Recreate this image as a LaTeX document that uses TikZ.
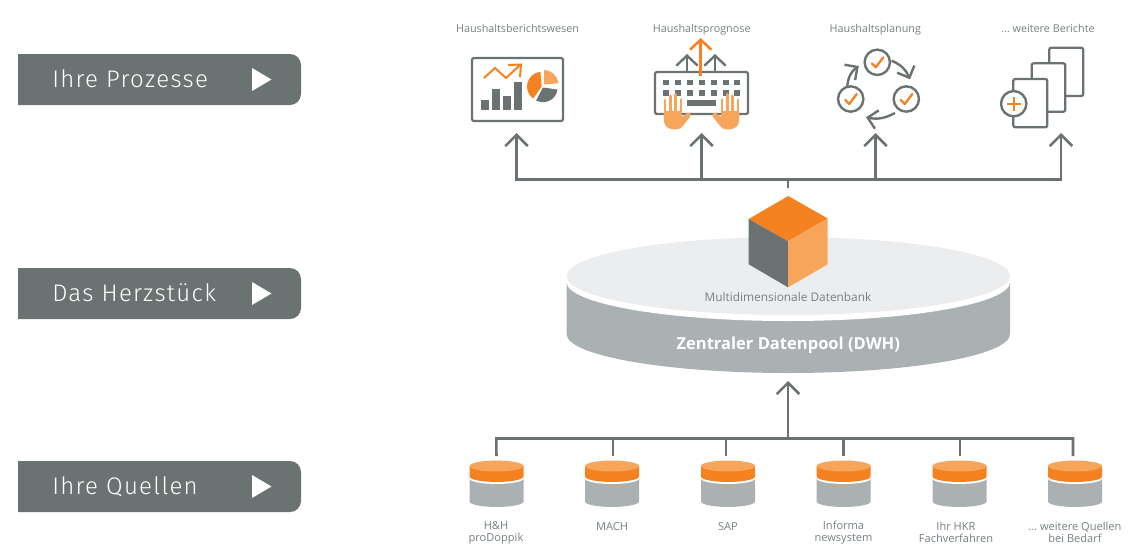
\documentclass[tikz,border=0pt]{standalone}
\usepackage{fontspec}
\setmainfont{Open Sans}
\newfontfamily\btnfont[LetterSpace=5.5]{Fira Sans Light}
\usetikzlibrary{arrows.meta,calc}
\definecolor{slate}{HTML}{6A7272}
\definecolor{lab}{HTML}{768081}
\definecolor{org}{HTML}{F58220}
\definecolor{lorg}{HTML}{F8A55C}
\definecolor{disk}{HTML}{ABB1B2}
\definecolor{lite}{HTML}{ECEDEE}
\tikzset{
  x=0.75pt,y=-0.75pt,
  wire/.style={draw=slate,line width=1.9pt},
  uparrow/.style={wire,-{Straight Barb[length=8.5pt,width=17pt,line width=1.9pt]}},
  thin icon/.style={draw=slate,line width=1.7pt,rounded corners=1.5pt,line join=round},
  okcircle/.style={circle,draw=slate,line width=1.8pt,fill=white,minimum size=19pt,inner sep=0pt},
  tick/.style={draw=org,line width=1.7pt,line cap=round,line join=round},
  barblet/.style={draw=slate,line width=1.8pt,-{Straight Barb[length=7pt,width=14pt,line width=1.8pt]}},
  toplabel/.style={text=lab,font=\fontsize{8.1pt}{10pt}\selectfont,inner sep=0pt,anchor=base},
  srclabel/.style={text=lab,font=\fontsize{8.3pt}{9pt}\selectfont,inner sep=0pt,anchor=center,align=center},
  btntext/.style={text=white,font=\btnfont\fontsize{18pt}{20pt}\selectfont,inner sep=0pt,anchor=base west},
}
\newcommand{\btn}[3]{%
  \fill[slate] (18,#1) -- (290,#1) arc[start angle=90,end angle=0,radius=8.25pt] -- (301,#1+40) arc[start angle=0,end angle=-90,radius=8.25pt] -- (18,#1+51) -- cycle;
  \node[btntext] (#3) at (52,#1+33.5) {#2};
  \fill[white] (252,#1+14) -- (271.5,#1+25.5) -- (252,#1+37) -- cycle;
}
\newcommand{\drum}[2]{%
  \fill[disk] (#1-27,478) -- (#1+27,478) -- (#1+27,501.5) arc[start angle=0,end angle=-180,x radius=20.25pt,y radius=4.1pt] -- cycle;
  \fill[white] (#1-27,469) -- (#1+27,469) -- (#1+27,478.5) arc[start angle=0,end angle=-180,x radius=20.25pt,y radius=4.1pt] -- cycle;
  \fill[org] (#1-27,466) -- (#1+27,466) -- (#1+27,476.5) arc[start angle=0,end angle=-180,x radius=20.25pt,y radius=4.1pt] -- cycle;
  \fill[lorg] (#1,466) ellipse[x radius=20.25pt,y radius=4.1pt];
  \coordinate (#2) at (#1,456);
}
\newcommand{\hand}{%
  \fill[lorg,rounded corners=2pt] (663.3,111) -- (682,111) -- (681.5,118) -- (688.5,111.5) -- (691.5,115) -- (682,127) -- (679,129.3) -- (670,129.3) -- (664.5,125) -- cycle;
  \draw[lorg,line width=2.2pt,line cap=round] (665,113) -- (665,100);
  \draw[lorg,line width=2.3pt,line cap=round] (670.3,113) -- (670.3,96);
  \draw[lorg,line width=2.3pt,line cap=round] (675.8,113) -- (675.8,94.5);
  \draw[lorg,line width=2.2pt,line cap=round] (681,113) -- (681,99.5);
}
\begin{document}
\begin{tikzpicture}
\useasboundingbox (0,0) rectangle (1131,544);
% buttons
\btn{54}{Ihre Prozesse}{bp}
\btn{268}{Das Herzstück}{bh}
\btn{461}{Ihre Quellen}{bq}

% top labels
\node[toplabel] (l1) at (517.5,32.3) {Haushaltsberichtswesen};
\node[toplabel] (l2) at (701.7,32.3) {Haushaltsprognose};
\node[toplabel] (l3) at (875.3,32.3) {Haushaltsplanung};
\node[toplabel] (l4) at (1048,32.3) {… weitere Berichte};

% icon 1: report
\draw[thin icon] (472,58) rectangle (563,121);
\fill[slate] (481,100) rectangle (489,110);
\fill[slate] (492,89) rectangle (500,110);
\fill[slate] (503,96) rectangle (511,110);
\fill[slate] (514,82) rectangle (522,110);
\draw[org,line width=1.5pt] (484,78) -- (495,68) -- (506,78) -- (520,65);
\draw[org,line width=1.5pt] (508,65) -- (521,64.5) -- (520,77);
\fill[org] (541.7,86.5) -- ++(95:11pt) arc[start angle=95,end angle=235,radius=11pt] -- cycle;
\fill[lorg] (544,84.5) -- ++(90:10.8pt) arc[start angle=90,end angle=5,radius=10.8pt] -- cycle;
\fill[slate] (543,87.5) -- ++(-8:11pt) arc[start angle=-8,end angle=-118,radius=11pt] -- cycle;

% icon 2: keyboard
\draw[thin icon] (655,72) rectangle (748,114);
\foreach \k in {0,...,6} {
  \fill[slate] ({663+11.9*\k},79.5) rectangle ({669+11.9*\k},85);
  \fill[slate] ({663+11.9*\k},90) rectangle ({669+11.9*\k},95.5);
}
\fill[slate] (687,100) rectangle (716,106);
\hand
\begin{scope}[shift={(1403,0)},xscale=-1]
\hand
\end{scope}
\coordinate (ka) at (687,72); \coordinate (kat) at (687,54);
\coordinate (kb) at (715,72); \coordinate (kbt) at (715,54);
\coordinate (kc) at (700.7,76); \coordinate (kct) at (700.7,38);
\draw[barblet,-{Straight Barb[length=7.5pt,width=16pt,line width=1.8pt]}] (ka) -- (kat);
\draw[barblet,-{Straight Barb[length=7.5pt,width=16pt,line width=1.8pt]}] (kb) -- (kbt);
\draw[draw=org,line width=1.9pt,-{Straight Barb[length=7.5pt,width=16pt,line width=1.9pt]}] (kc) -- (kct);

% icon 3: cycle
\node[okcircle] (c1) at (877.3,62.3) {};
\node[okcircle] (c2) at (850.7,99) {};
\node[okcircle] (c3) at (906.3,99) {};
\foreach \c in {c1,c2,c3} {
  \draw[tick] ($(\c)+(-5.5,1)$) -- ($(\c)+(-1.5,5)$) -- ($(\c)+(6,-5)$);
}
\draw[barblet] (891.7,60.7) to[bend left=22] (910,79.3);
\draw[barblet] (847.3,86) to[bend left=25] (858.8,66);
\draw[barblet] (895,113) to[bend left=20] (866,117.3);

% icon 4: pages
\draw[thin icon,fill=white] (1049.3,47.7) rectangle (1083.3,96);
\draw[thin icon,fill=white] (1031.7,63.3) rectangle (1065.3,111.7);
\draw[thin icon,fill=white] (1013.3,79) rectangle (1047.3,127.3);
\node[okcircle] (cp) at (1013.7,103.7) {};
\draw[org,line width=1.7pt] ($(cp)+(-7,0)$) -- ($(cp)+(7,0)$);
\draw[org,line width=1.7pt] ($(cp)+(0,-7)$) -- ($(cp)+(0,7)$);

% top bus
\coordinate (ja) at (516.5,179.5); \coordinate (ta) at (516.5,133);
\coordinate (jb) at (701.5,179.5); \coordinate (tb) at (701.5,133);
\coordinate (jc) at (875.5,179.5); \coordinate (tc) at (875.5,133);
\coordinate (jd) at (1061,179.5);  \coordinate (td) at (1061,133);
\coordinate (hub) at (788,179.5);  \coordinate (hubs) at (788,187.5);
\draw[wire] ($(ja)+(-0.95pt,0)$) -- ($(jd)+(0.95pt,0)$);
\draw[uparrow] (ja) -- (ta);
\draw[uparrow] (jb) -- (tb);
\draw[uparrow] (jc) -- (tc);
\draw[uparrow] (jd) -- (td);
\draw[wire] (hub) -- (hubs);

% central disk
\fill[disk] (566.7,283) -- (1010,283) -- (1010,334) arc[start angle=0,end angle=-180,x radius=166.3pt,y radius=29.25pt] -- cycle;
\fill[white] (788.3,282) ellipse[x radius=166.3pt,y radius=29.25pt];
\fill[lite] (788.3,276) ellipse[x radius=166.3pt,y radius=29.25pt];
\node[text=lab,font=\fontsize{8.9pt}{10pt}\selectfont,inner sep=0pt] (mdb) at (788,296.7) {Multidimensionale Datenbank};
\node[text=white,font=\fontsize{12.4pt}{14pt}\selectfont\bfseries,inner sep=0pt,anchor=base] (dwh) at (788.3,349.5) {Zentraler Datenpool (DWH)};

% cube
\fill[org] (788.3,196) -- (827.7,218.5) -- (788,241.3) -- (748.7,219) -- cycle;
\fill[slate] (748.7,219) -- (788,241.3) -- (788,287.3) -- (748.7,264.3) -- cycle;
\fill[lorg] (827.7,218.5) -- (788,241.3) -- (788,287.3) -- (827.7,264.3) -- cycle;

% bottom bus
\drum{496.5}{s1}
\drum{612}{s2}
\drum{728}{s3}
\drum{843.7}{s4}
\drum{959.5}{s5}
\drum{1075}{s6}
\coordinate (b1) at (496.3,438.5);
\coordinate (b2) at (613,438.5);
\coordinate (b3) at (726,438.5);
\coordinate (b4) at (843.7,438.5);
\coordinate (b5) at (960,438.5);
\coordinate (b6) at (1073,438.5);
\coordinate (s2b) at (613,456);
\coordinate (s3b) at (726,456);
\coordinate (s5b) at (960,456);
\coordinate (s6b) at (1073,456);
\coordinate (bm) at (788,438.5);
\coordinate (bmt) at (788,381);
\draw[wire,line join=miter] (s1) -- (b1) -- (b6) -- (s6b);
\draw[wire] (b2) -- (s2b);
\draw[wire] (b3) -- (s3b);
\draw[wire] (b4) -- (s4);
\draw[wire] (b5) -- (s5b);
\draw[uparrow] (bm) -- (bmt);

% source labels
\node[srclabel] (q1) at (496,532.6) {H\&H\\proDoppik};
\node[srclabel] (q2) at (612,526.7) {MACH};
\node[srclabel] (q3) at (728,526.7) {SAP};
\node[srclabel] (q4) at (843.5,532.6) {Informa\\newsystem};
\node[srclabel] (q5) at (956,532.6) {Ihr HKR\\Fachverfahren};
\node[srclabel] (q6) at (1075,532.6) {… weitere Quellen\\bei Bedarf};
\end{tikzpicture}
\end{document}
